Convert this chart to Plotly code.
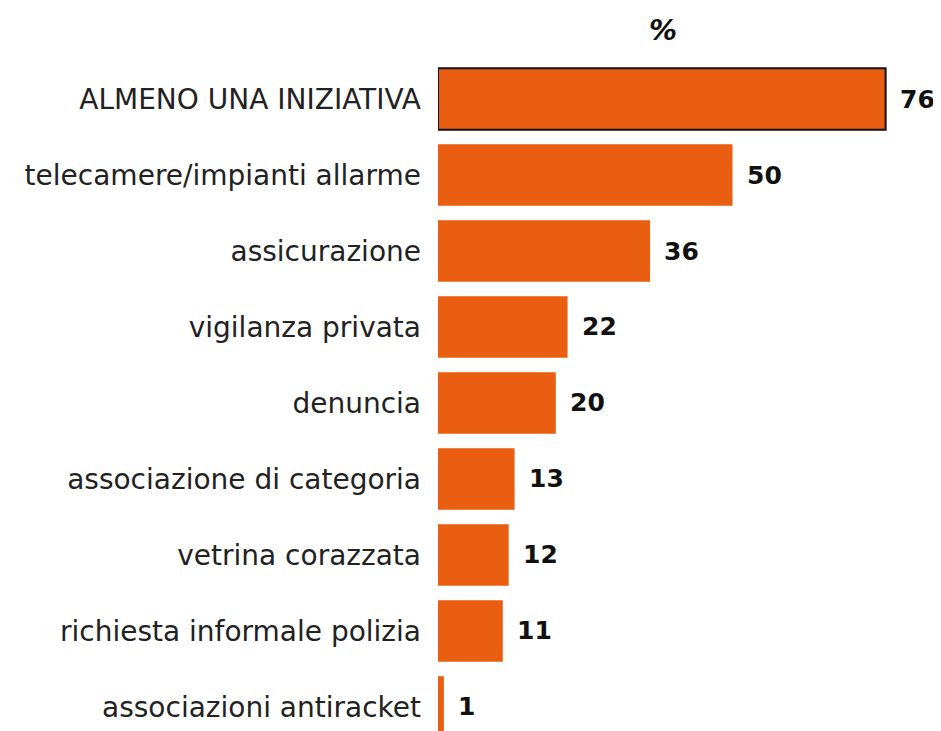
import plotly.graph_objects as go

categories = ["ALMENO UNA INIZIATIVA", "telecamere/impianti allarme", "assicurazione",
              "vigilanza privata", "denuncia", "associazione di categoria",
              "vetrina corazzata", "richiesta informale polizia", "associazioni antiracket"]
values = [76, 50, 36, 22, 20, 13, 12, 11, 1]

BAR = "#E95E10"
line_w = [2] + [0] * (len(values) - 1)

fig = go.Figure(go.Bar(
    x=values, y=categories, orientation="h",
    marker=dict(color=BAR, line=dict(color="#111111", width=line_w)),
    width=0.81, hoverinfo="skip",
))

for c, v in zip(categories, values):
    fig.add_annotation(x=v, y=c, text="<b>" + str(v) + "</b>", showarrow=False, xanchor="left",
                       xshift=12, font=dict(family="DejaVu Sans", size=25, color="#111111"))

fig.add_annotation(x=38.2, y=1 + 31 / 670, xref="x", yref="paper", text="<b><i>%</i></b>",
                   showarrow=False, font=dict(family="DejaVu Sans", size=28, color="#111111"),
                   yanchor="middle")

fig.update_layout(
    width=933, height=723,
    margin=dict(l=430, r=0, t=53, b=0),
    paper_bgcolor="white", plot_bgcolor="white",
    showlegend=False,
    xaxis=dict(range=[0, 85.4], visible=False, fixedrange=True),
    yaxis=dict(categoryorder="array", categoryarray=categories,
               range=[8.316, -0.5], showgrid=False, zeroline=False, showline=False,
               ticks="", ticklabelstandoff=16,
               tickfont=dict(family="DejaVu Sans", size=28, color="#222222")),
)

fig.write_html("out.html")
